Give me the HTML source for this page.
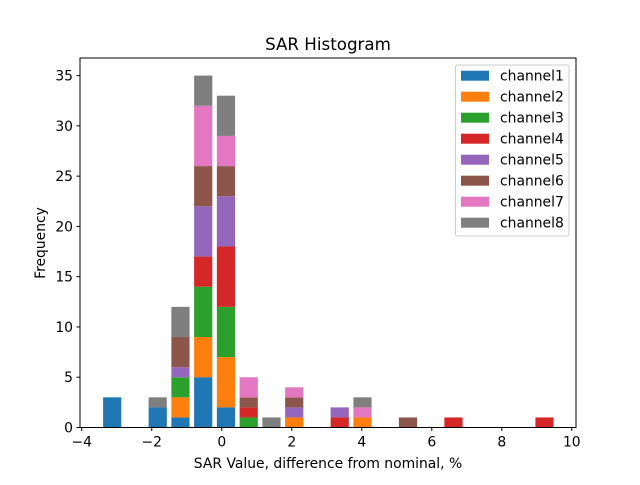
<!DOCTYPE html>
<html><head><meta charset="utf-8"><style>
body{margin:0;background:#fff;}
svg text{font-family:"DejaVu Sans","Liberation Sans",sans-serif;fill:#000;}
</style></head><body>
<svg id="chart" width="640" height="480" xmlns="http://www.w3.org/2000/svg">
<rect width="640" height="480" fill="#fff"/>
<text x="328" y="50" font-size="16.7" text-anchor="middle">SAR Histogram</text>
<g id="bars"></g>
<g id="axes"></g>
<text x="328" y="468" font-size="13.9" text-anchor="middle">SAR Value, difference from nominal, %</text>
<text transform="translate(45,243) rotate(-90)" font-size="13.9" text-anchor="middle">Frequency</text>
<g id="legend"></g>
</svg>
<script>
const seriesNames=["channel1","channel2","channel3","channel4","channel5","channel6","channel7","channel8"];
const colors=["#1f77b4","#ff7f0e","#2ca02c","#d62728","#9467bd","#8c564b","#e377c2","#7f7f7f"];
const binCenters=[-3.13,-2.48,-1.83,-1.18,-0.53,0.12,0.77,1.42,2.07,2.72,3.37,4.02,4.67,5.32,5.97,6.62,7.27,7.92,8.57,9.22];
const ch1=[3,0,2,1,5,2,0,0,0,0,0,0,0,0,0,0,0,0,0,0];
const ch2=[0,0,0,2,4,5,0,0,1,0,0,1,0,0,0,0,0,0,0,0];
const ch3=[0,0,0,2,5,5,1,0,0,0,0,0,0,0,0,0,0,0,0,0];
const ch4=[0,0,0,0,3,6,1,0,0,0,1,0,0,0,0,1,0,0,0,1];
const ch5=[0,0,0,1,5,5,0,0,1,0,1,0,0,0,0,0,0,0,0,0];
const ch6=[0,0,0,3,4,3,1,0,1,0,0,0,0,1,0,0,0,0,0,0];
const ch7=[0,0,0,0,6,3,2,0,1,0,0,1,0,0,0,0,0,0,0,0];
const ch8=[0,0,1,3,3,4,0,1,0,0,0,1,0,0,0,0,0,0,0,0];
const xTicks=[-4,-2,0,2,4,6,8,10];
const yTicks=[0,5,10,15,20,25,30,35];
const binWidth=0.65;

const NS="http://www.w3.org/2000/svg";
const L=80,R=576,T=58,B=427.5,xmin=-4.05,xmax=10.12,ymax=36.75;
const X=v=>L+(v-xmin)/(xmax-xmin)*(R-L);
const Y=v=>B-v/ymax*(B-T);
function mk(tag,attrs,parent){const e=document.createElementNS(NS,tag);for(const k in attrs)e.setAttribute(k,attrs[k]);parent.appendChild(e);return e;}
const series=[ch1,ch2,ch3,ch4,ch5,ch6,ch7,ch8];
const bars=document.getElementById('bars');
binCenters.forEach((c,i)=>{
  let base=0;
  series.forEach((s,j)=>{
    const v=s[i];
    if(v>0){
      const r=mk('rect',{x:X(c-binWidth*0.4),y:Y(base+v),width:X(c+binWidth*0.4)-X(c-binWidth*0.4),height:Y(base)-Y(base+v),fill:colors[j]},bars);
      
      
    }
    base+=v;
  });
});
const ax=document.getElementById('axes');
const frame=mk('rect',{x:L,y:T,width:R-L,height:B-T,fill:'none',stroke:'#000','stroke-width':1},ax);


xTicks.forEach(t=>{
  const x=X(t);
  const l=mk('line',{x1:x,x2:x,y1:B,y2:B+3.5,stroke:'#000'},ax);
  
  
  const tx=mk('text',{x:x,y:B+19,'font-size':13.9,'text-anchor':'middle'},ax);
  tx.textContent=(t<0?'\u2212'+(-t):String(t));
  
  
});
yTicks.forEach(t=>{
  const y=Y(t);
  const l=mk('line',{x1:L-3.5,x2:L,y1:y,y2:y,stroke:'#000'},ax);
  
  
  const tx=mk('text',{x:L-7,y:y+5,'font-size':13.9,'text-anchor':'end'},ax);
  tx.textContent=String(t);
  
  
});
const lg=document.getElementById('legend');
const box=mk('rect',{x:455.5,y:65,width:113.5,height:171,rx:2,fill:'#fff','fill-opacity':0.8,stroke:'#ccc'},lg);


seriesNames.forEach((n,j)=>{
  const cy=75.7+j*21;
  const p=mk('rect',{x:461,y:cy-5,width:28,height:10,fill:colors[j]},lg);
  
  
  const tx=mk('text',{x:500,y:cy+5,'font-size':13.9},lg);
  tx.textContent=n;
  
  
});
</script>
</body></html>
